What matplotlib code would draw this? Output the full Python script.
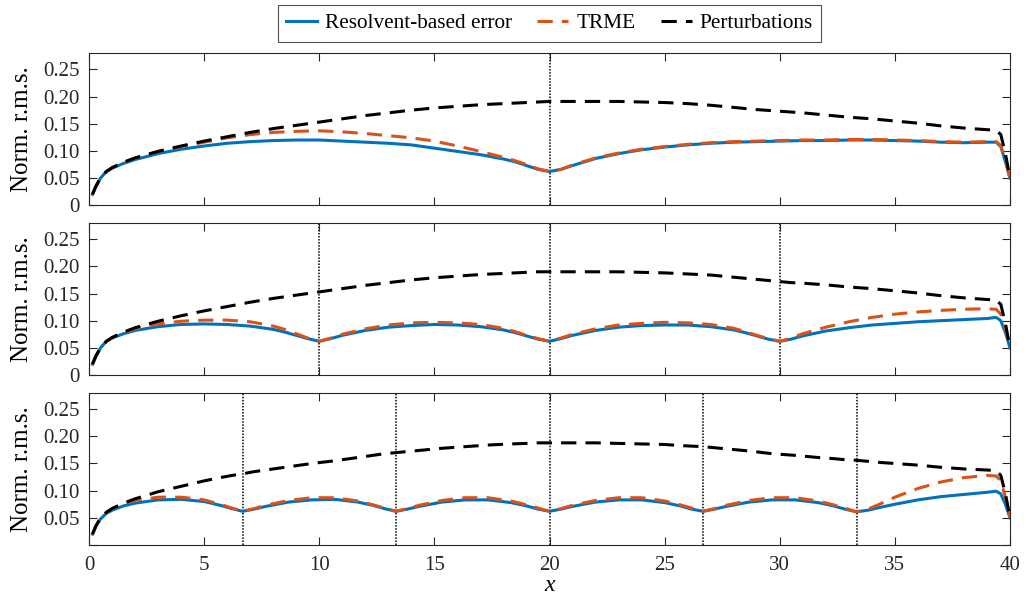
import numpy as np
import matplotlib
matplotlib.use("Agg")
import matplotlib.pyplot as plt
from matplotlib.lines import Line2D

plt.rcParams["font.family"] = ["Liberation Serif", "DejaVu Serif"]

# ---- data ----
# panel 1: one segment boundary at x = 20
x1 = [0.15, 0.3, 0.5, 0.75, 1, 1.5, 2, 3, 4, 5, 6, 7, 8, 9, 10, 11, 12, 13, 14, 15, 16, 17, 18,
      18.5, 19, 19.5, 20, 20.5, 21, 22, 23, 24, 25, 26, 27, 28, 29, 30, 31, 32, 33, 34, 35, 36,
      37, 38, 39, 39.4, 39.6, 39.8, 40]
resolvent1 = [0.02, 0.035, 0.05, 0.062, 0.068, 0.077, 0.084, 0.095, 0.103, 0.109, 0.114, 0.117,
              0.119, 0.12, 0.12, 0.118, 0.116, 0.114, 0.111, 0.105, 0.099, 0.093, 0.085, 0.08,
              0.073, 0.066, 0.062, 0.066, 0.073, 0.086, 0.095, 0.102, 0.107, 0.111, 0.114, 0.116,
              0.117, 0.118, 0.119, 0.119, 0.12, 0.12, 0.119, 0.118, 0.116, 0.115, 0.116, 0.116,
              0.108, 0.08, 0.05]
trme1 = [0.02, 0.035, 0.05, 0.062, 0.069, 0.079, 0.087, 0.099, 0.108, 0.116, 0.124, 0.13, 0.134,
         0.136, 0.137, 0.135, 0.132, 0.128, 0.124, 0.118, 0.109, 0.099, 0.088, 0.082, 0.075,
         0.067, 0.062, 0.066, 0.074, 0.087, 0.096, 0.103, 0.108, 0.112, 0.115, 0.117, 0.118,
         0.119, 0.12, 0.12, 0.121, 0.121, 0.12, 0.119, 0.117, 0.116, 0.117, 0.117, 0.11, 0.082,
         0.05]
pert1 = [0.02, 0.035, 0.05, 0.062, 0.069, 0.079, 0.087, 0.099, 0.109, 0.118, 0.126, 0.134, 0.141,
         0.147, 0.153, 0.159, 0.165, 0.17, 0.175, 0.179, 0.182, 0.185, 0.187, 0.188, 0.189, 0.19,
         0.191, 0.191, 0.191, 0.191, 0.191, 0.19, 0.189, 0.187, 0.184, 0.18, 0.176, 0.173, 0.17,
         0.166, 0.162, 0.159, 0.155, 0.151, 0.146, 0.142, 0.139, 0.138, 0.13, 0.095, 0.05]

# panel 2: boundaries at x = 10, 20, 30
x2 = [0.15, 0.3, 0.5, 0.75, 1, 1.5, 2, 3, 4, 5, 6, 7, 8, 8.5, 9, 9.5, 10, 10.5, 11, 12, 13, 14,
      15, 16, 17, 18, 18.5, 19, 19.5, 20, 20.5, 21, 22, 23, 24, 25, 26, 27, 28, 28.5, 29, 29.5,
      30, 30.5, 31, 32, 33, 34, 35, 36, 37, 38, 39, 39.4, 39.6, 39.8, 40]
resolvent2 = [0.02, 0.035, 0.05, 0.062, 0.068, 0.076, 0.082, 0.089, 0.093, 0.094, 0.093, 0.09,
              0.084, 0.079, 0.073, 0.067, 0.062, 0.067, 0.073, 0.082, 0.088, 0.091, 0.093, 0.092,
              0.089, 0.083, 0.078, 0.072, 0.066, 0.062, 0.067, 0.073, 0.082, 0.088, 0.091, 0.092,
              0.092, 0.089, 0.083, 0.078, 0.072, 0.066, 0.062, 0.066, 0.072, 0.081, 0.087, 0.092,
              0.095, 0.098, 0.1, 0.102, 0.104, 0.106, 0.1, 0.078, 0.05]
trme2 = [0.02, 0.035, 0.05, 0.062, 0.069, 0.078, 0.085, 0.094, 0.099, 0.101, 0.101, 0.098, 0.09,
         0.084, 0.076, 0.068, 0.062, 0.068, 0.075, 0.085, 0.092, 0.096, 0.097, 0.096, 0.093,
         0.086, 0.08, 0.073, 0.067, 0.062, 0.068, 0.075, 0.085, 0.092, 0.095, 0.097, 0.096,
         0.093, 0.086, 0.08, 0.073, 0.067, 0.062, 0.068, 0.076, 0.088, 0.098, 0.106, 0.112,
         0.116, 0.119, 0.121, 0.122, 0.121, 0.112, 0.085, 0.05]
pert2 = [0.02, 0.035, 0.05, 0.062, 0.069, 0.079, 0.087, 0.099, 0.109, 0.118, 0.126, 0.134, 0.141,
         0.144, 0.147, 0.15, 0.153, 0.156, 0.159, 0.165, 0.17, 0.175, 0.179, 0.182, 0.185, 0.187,
         0.188, 0.189, 0.19, 0.19, 0.19, 0.19, 0.19, 0.19, 0.189, 0.188, 0.186, 0.184, 0.18,
         0.178, 0.176, 0.174, 0.172, 0.17, 0.169, 0.166, 0.162, 0.159, 0.155, 0.151, 0.146,
         0.142, 0.139, 0.138, 0.13, 0.095, 0.05]

# panel 3: boundaries every 40/6
x3 = [0.15, 0.3, 0.5, 0.75, 1, 1.5, 2, 3, 4, 5, 5.7, 6.2, 6.67, 7.17, 7.67, 8.67, 9.67, 10.67,
      11.67, 12.33, 12.83, 13.33, 13.83, 14.33, 15.33, 16.33, 17.33, 18.33, 19, 19.5, 20, 20.5,
      21, 22, 23, 24, 25, 25.67, 26.17, 26.67, 27.17, 27.67, 28.67, 29.67, 30.67, 31.67, 32.33,
      32.83, 33.33, 33.83, 34.33, 35, 36, 37, 38, 39, 39.4, 39.6, 39.8, 40]
resolvent3 = [0.02, 0.035, 0.048, 0.058, 0.064, 0.072, 0.077, 0.083, 0.084, 0.08, 0.073, 0.067,
              0.062, 0.066, 0.071, 0.079, 0.083, 0.084, 0.079, 0.073, 0.067, 0.062, 0.066, 0.071,
              0.079, 0.083, 0.083, 0.078, 0.072, 0.066, 0.062, 0.066, 0.071, 0.079, 0.083, 0.083,
              0.078, 0.072, 0.066, 0.062, 0.066, 0.071, 0.079, 0.083, 0.083, 0.078, 0.072, 0.066,
              0.061, 0.064, 0.069, 0.075, 0.083, 0.089, 0.093, 0.097, 0.099, 0.094, 0.075, 0.05]
trme3 = [0.02, 0.035, 0.05, 0.06, 0.067, 0.076, 0.082, 0.088, 0.088, 0.083, 0.075, 0.068, 0.062,
         0.067, 0.073, 0.082, 0.087, 0.087, 0.081, 0.074, 0.068, 0.062, 0.067, 0.073, 0.082,
         0.087, 0.087, 0.081, 0.074, 0.068, 0.062, 0.067, 0.073, 0.082, 0.087, 0.087, 0.081,
         0.074, 0.068, 0.062, 0.067, 0.073, 0.082, 0.087, 0.087, 0.081, 0.074, 0.068, 0.061,
         0.066, 0.075, 0.088, 0.104, 0.116, 0.124, 0.128, 0.127, 0.118, 0.088, 0.05]
pert3 = [0.02, 0.035, 0.05, 0.06, 0.067, 0.077, 0.085, 0.098, 0.108, 0.118, 0.124, 0.128, 0.131,
         0.135, 0.138, 0.144, 0.15, 0.155, 0.161, 0.165, 0.168, 0.17, 0.172, 0.174, 0.178, 0.181,
         0.184, 0.186, 0.187, 0.188, 0.188, 0.188, 0.188, 0.188, 0.187, 0.186, 0.185, 0.183,
         0.182, 0.181, 0.179, 0.177, 0.173, 0.168, 0.165, 0.161, 0.159, 0.157, 0.156, 0.154,
         0.152, 0.15, 0.147, 0.143, 0.14, 0.138, 0.137, 0.128, 0.095, 0.05]

splits = [[20], [10, 20, 30], [40 / 6, 80 / 6, 20, 160 / 6, 200 / 6]]
yticks = [0, 0.05, 0.10, 0.15, 0.20, 0.25]
ytick_labels = ["0", "0.05", "0.10", "0.15", "0.20", "0.25"]
xticks = [0, 5, 10, 15, 20, 25, 30, 35, 40]
labels = ["Resolvent-based error", "TRME", "Perturbations"]

panels = [(x1, resolvent1, trme1, pert1),
          (x2, resolvent2, trme2, pert2),
          (x3, resolvent3, trme3, pert3)]

c_blue = "#0072BD"
c_orange = "#D95319"
c_axis = "#262626"

fig = plt.figure(figsize=(10.28, 6), dpi=100)
left, width = 0.0866, 0.8959
bottoms = [0.658, 0.375, 0.0917]
height = 0.2535

for i, (x, res, trme, pert) in enumerate(panels):
    ax = fig.add_axes([left, bottoms[i], width, height])
    for s in splits[i]:
        ax.axvline(s, color="black", linestyle=(0, (1, 1)), linewidth=1.1, zorder=1)
    ax.plot(x, res, color=c_blue, linewidth=2.2, zorder=3)
    ax.plot(x, trme, color=c_orange, linewidth=2.2, dashes=(5, 3), zorder=4)
    ax.plot(x, pert, color="black", linewidth=2.2, dashes=(5, 3), zorder=5)

    ax.set_xlim(0, 40)
    ax.set_ylim(0, 0.28)
    ax.set_xticks(xticks)
    ax.set_yticks(yticks)
    if i == 2:
        ax.set_yticklabels([""] + ytick_labels[1:])
        ax.set_xticklabels([str(t) for t in xticks])
        ax.set_xlabel("x", fontstyle="italic", fontsize=17, labelpad=0)
    else:
        ax.set_yticklabels(ytick_labels)
        ax.set_xticklabels([])
    ax.tick_params(direction="in", top=True, right=True, length=6, width=0.8,
                   colors=c_axis, labelsize=15, pad=7)
    ax.tick_params(axis="x", pad=8)
    for sp in ax.spines.values():
        sp.set_color(c_axis)
        sp.set_linewidth(0.8)
    ax.set_ylabel("Norm. r.m.s.", fontsize=18, color="black", labelpad=7)

handles = [Line2D([], [], color=c_blue, linewidth=2.2),
           Line2D([], [], color=c_orange, linewidth=2.2, dashes=(5, 3)),
           Line2D([], [], color="black", linewidth=2.2, dashes=(5, 3))]
leg = fig.legend(handles, labels, loc="center", bbox_to_anchor=(0.5345, 0.961), ncol=3,
                 fontsize=15.3, frameon=True, fancybox=False, borderpad=0.4,
                 handlelength=1.46, columnspacing=1.18, handletextpad=0.38)
leg.get_frame().set_edgecolor(c_axis)
leg.get_frame().set_linewidth(0.8)

fig.savefig("out.png", dpi=100)
